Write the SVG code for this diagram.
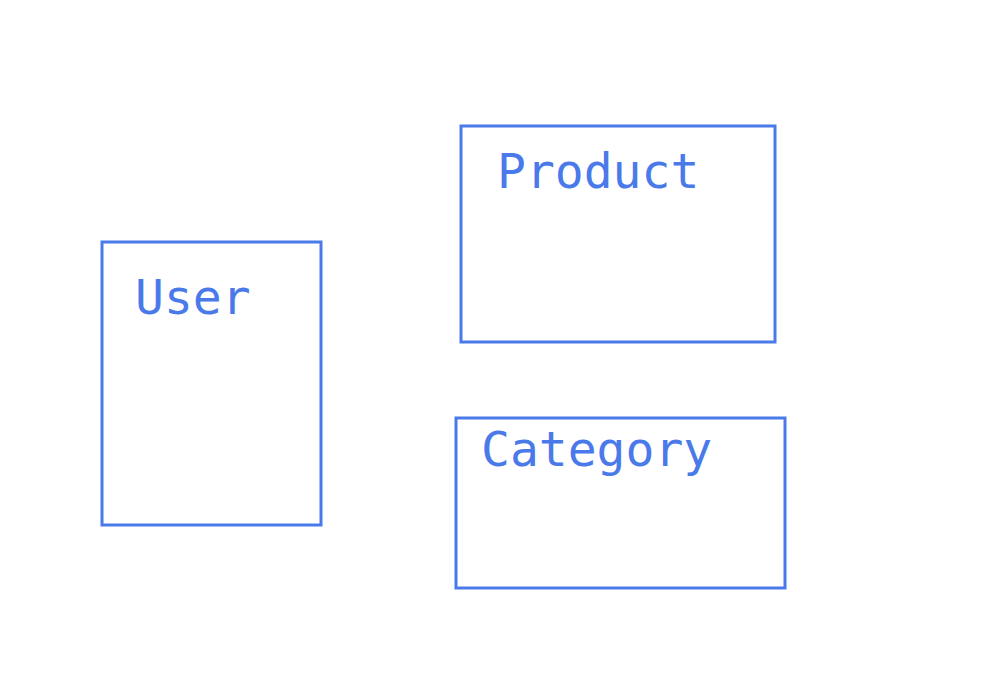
<svg xmlns="http://www.w3.org/2000/svg" width="992" height="684" viewBox="0 0 992 684">
<style>
.box{fill:none;stroke:#4a7aea;stroke-width:3}
.lbl{fill:#4a7aea;font-family:"DejaVu Sans Mono","Liberation Mono",monospace;font-size:48px}
</style>
<rect width="992" height="684" fill="#ffffff"/>
<g id="connectors"></g>
<g id="user"><rect class="box" x="102" y="242" width="219" height="283"/><text class="lbl" x="135" y="314">User</text></g>
<g id="product"><rect class="box" x="461" y="126" width="314" height="216"/><text class="lbl" x="497" y="188">Product</text></g>
<g id="category"><rect class="box" x="456" y="418" width="329" height="170"/><text class="lbl" x="481" y="466">Category</text></g>
</svg>
